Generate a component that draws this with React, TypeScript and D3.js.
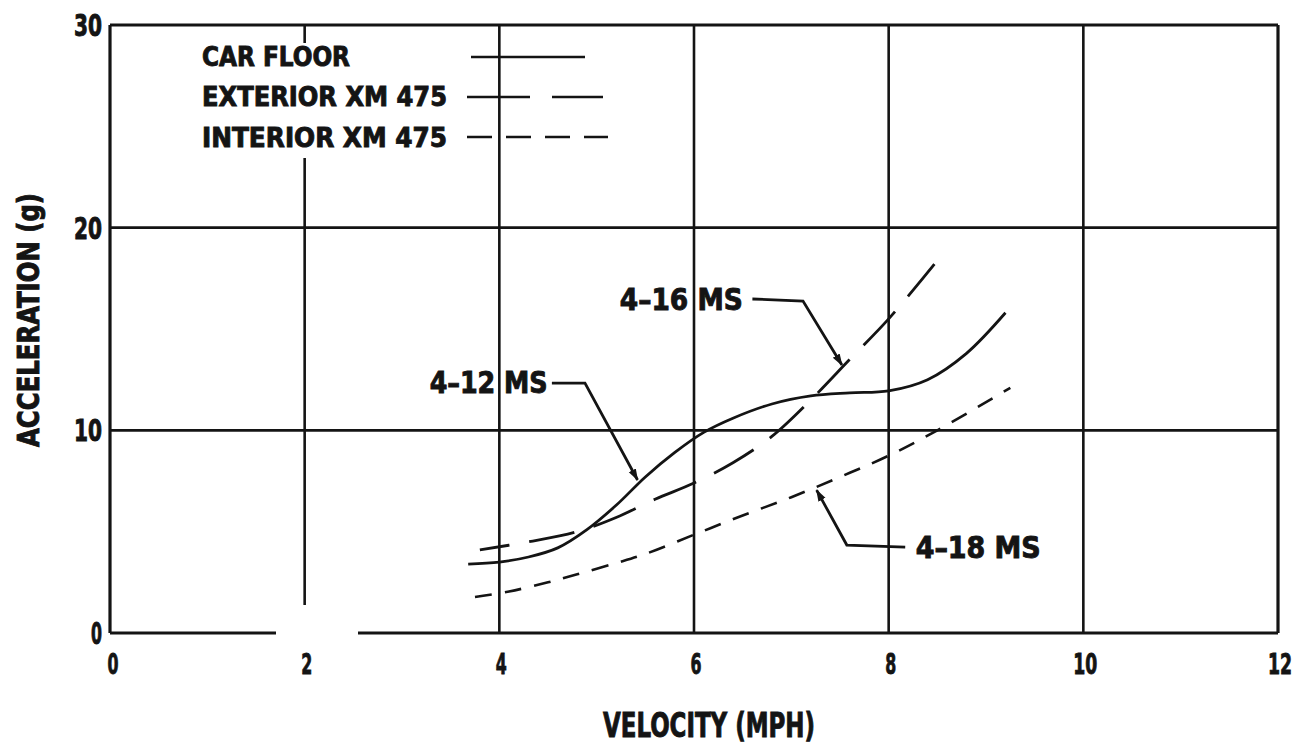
import React from 'react';
import * as d3 from 'd3';

// Car floor (solid)
const floorVel = [3.68, 4.0, 4.3, 4.6, 4.9, 5.2, 5.5, 5.8, 6.1, 6.4, 6.8, 7.2, 7.6, 8.0, 8.4, 8.8, 9.2];
const floorAcc = [3.4, 3.5, 3.75, 4.2, 5.1, 6.3, 7.7, 8.9, 9.9, 10.6, 11.3, 11.7, 11.85, 11.95, 12.5, 13.8, 15.8];

// Exterior XM 475 (long dash)
const extVel = [3.8, 4.3, 4.8, 5.2, 5.6, 6.0, 6.4, 6.8, 7.2, 7.6, 8.0, 8.47];
const extAcc = [4.1, 4.5, 5.0, 5.7, 6.6, 7.4, 8.4, 9.7, 11.5, 13.5, 15.5, 18.2];

// Interior XM 475 (short dash)
const intVel = [3.75, 4.1, 4.5, 4.8, 5.2, 5.5, 6.0, 6.5, 7.0, 7.5, 8.0, 8.5, 9.25];
const intAcc = [1.78, 2.05, 2.5, 2.9, 3.45, 3.9, 4.85, 5.8, 6.7, 7.7, 8.75, 10.0, 12.1];

const xTicks = [0, 2, 4, 6, 8, 10, 12];
const yTicks = [0, 10, 20, 30];

const legendLabels = ['CAR FLOOR', 'EXTERIOR XM 475', 'INTERIOR XM 475'];

// callouts: label, label anchor (data units), leader points (data units)
const callouts = [
  { text: '4–12 MS', at: [3.89, 12.38], width: 118, leader: [[4.54, 12.33], [4.88, 12.33], [5.42, 7.55]] },
  { text: '4–16 MS', at: [5.87, 16.45], width: 123, leader: [[6.6, 16.48], [7.12, 16.38], [7.52, 13.22]] },
  { text: '4–18 MS', at: [8.92, 4.24], width: 125, leader: [[8.17, 4.24], [7.57, 4.34], [7.26, 7.05]] },
];

const INK = '#141414';
const FONT = "'DejaVu Sans Condensed', 'Liberation Sans Narrow', 'Roboto', sans-serif";

const W = 1313;
const H = 746;
const margin = { top: 25, right: 35, bottom: 113, left: 110 };

export default function App() {
  const x = d3.scaleLinear().domain([0, 12]).range([margin.left, W - margin.right]);
  const y = d3.scaleLinear().domain([0, 30]).range([H - margin.bottom, margin.top]);

  const line = d3
    .line<[number, number]>()
    .x((d) => x(d[0]))
    .y((d) => y(d[1]))
    .curve(d3.curveCatmullRom.alpha(0.5));

  const zip = (a: number[], b: number[]) => a.map((v, i) => [v, b[i]] as [number, number]);
  const leaderLine = d3.line<number[]>().x((d) => x(d[0])).y((d) => y(d[1]));

  const x0 = x(0), x12 = x(12), y0 = y(0), y30 = y(30);

  const label = (props: any, text: string) => (
    <text
      fontFamily={FONT}
      fontWeight="bold"
      fill={INK}
      stroke={INK}
      strokeWidth={0.9}
      lengthAdjust="spacingAndGlyphs"
      {...props}
    >
      {text}
    </text>
  );

  return (
    <svg width={W} height={H} style={{ position: 'absolute', left: 0, top: 0, background: '#fff' }}>
      <defs>
        <marker id="arr" viewBox="0 0 12 10" refX="11" refY="5" markerWidth="12" markerHeight="10" markerUnits="userSpaceOnUse" orient="auto">
          <path d="M0,1 L12,5 L0,9 Z" fill={INK} />
        </marker>
      </defs>

      {/* grid */}
      {[4, 6, 8, 10].map((v) => (
        <line key={v} x1={x(v)} x2={x(v)} y1={y30} y2={y0} stroke={INK} strokeWidth={2.6} />
      ))}
      <line x1={x(2)} x2={x(2)} y1={y30} y2={y30 + 18} stroke={INK} strokeWidth={2.6} />
      <line x1={x(2)} x2={x(2)} y1={158} y2={605} stroke={INK} strokeWidth={2.6} />
      {[10, 20].map((v) => (
        <line key={v} x1={x0} x2={x12} y1={y(v)} y2={y(v)} stroke={INK} strokeWidth={2.6} />
      ))}

      {/* frame */}
      <line x1={x0} x2={x12} y1={y30} y2={y30} stroke={INK} strokeWidth={3.2} />
      <line x1={x0} x2={x0} y1={y30} y2={y0} stroke={INK} strokeWidth={3.2} />
      <line x1={x12} x2={x12} y1={y30} y2={y0} stroke={INK} strokeWidth={3.2} />
      <line x1={x0} x2={276} y1={y0} y2={y0} stroke={INK} strokeWidth={3.2} />
      <line x1={358} x2={x12} y1={y0} y2={y0} stroke={INK} strokeWidth={3.2} />

      {/* ticks */}
      {yTicks.map((v) =>
        label(
          { key: 'y' + v, x: x0 - 8, y: y(v), dy: '0.36em', textAnchor: 'end', fontSize: 31, textLength: v === 0 ? 11 : 28 },
          String(v)
        )
      )}
      {xTicks.map((v) =>
        label(
          { key: 'x' + v, x: x(v) + (v === 0 ? 3 : 2), y: y0 + 31, dy: '0.36em', textAnchor: 'middle', fontSize: 29, textLength: v >= 10 ? 24 : 11 },
          String(v)
        )
      )}

      {/* axis titles */}
      {label({ x: 709, y: 725, dy: '0.36em', textAnchor: 'middle', fontSize: 34, textLength: 212 }, 'VELOCITY (MPH)')}
      {label(
        { x: 0, y: 0, dy: '0.36em', textAnchor: 'middle', fontSize: 30, textLength: 254, transform: 'translate(28,320) rotate(-90)' },
        'ACCELERATION (g)'
      )}

      {/* legend */}
      {legendLabels.map((t, i) =>
        label({ key: t, x: 202, y: 56 + i * 40.5, dy: '0.36em', fontSize: 27, textLength: i === 0 ? 148 : 245 }, t)
      )}
      <line x1={471} x2={585} y1={57} y2={57} stroke={INK} strokeWidth={2.6} />
      <line x1={467} x2={603} y1={97} y2={97} stroke={INK} strokeWidth={2.6} strokeDasharray="63,22" />
      <line x1={467} x2={608} y1={137} y2={137} stroke={INK} strokeWidth={2.6} strokeDasharray="25,14" />

      {/* curves */}
      <path d={line(zip(floorVel, floorAcc)) || ''} fill="none" stroke={INK} strokeWidth={2.8} />
      <path d={line(zip(extVel, extAcc)) || ''} fill="none" stroke={INK} strokeWidth={2.8} strokeDasharray="46,20" strokeDashoffset={16} />
      <path d={line(zip(intVel, intAcc)) || ''} fill="none" stroke={INK} strokeWidth={2.6} strokeDasharray="17,13" />

      {/* callouts */}
      {callouts.map((c) => (
        <g key={c.text}>
          <path d={leaderLine(c.leader) || ''} fill="none" stroke={INK} strokeWidth={2.8} markerEnd="url(#arr)" />
          {label(
            { x: x(c.at[0]), y: y(c.at[1]), dy: '0.36em', textAnchor: 'middle', fontSize: 30, textLength: c.width },
            c.text
          )}
        </g>
      ))}
    </svg>
  );
}
